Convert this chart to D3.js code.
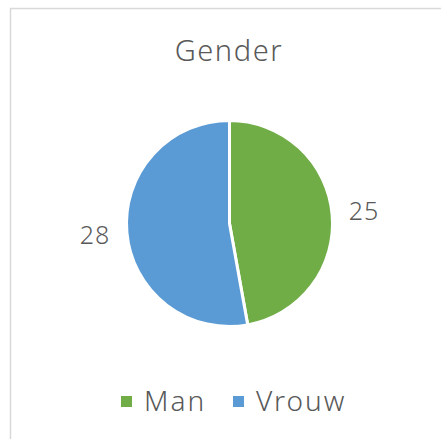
<!DOCTYPE html>
<html>
<head>
<meta charset="utf-8">
<script src="https://cdn.jsdelivr.net/npm/d3@7"></script>
<style>
  body { margin: 0; background: #fff; }
  text { font-family: "Noto Sans", sans-serif; font-weight: 300; fill: #595959; }
</style>
</head>
<body>
<svg width="441" height="439"></svg>
<script>
var categories = ["Man", "Vrouw"];
var values = [25, 28];
var colors = ["#70AD47", "#5B9BD5"];
var title = "Gender";

var svg = d3.select("svg"),
    width = +svg.attr("width"),
    height = +svg.attr("height");

// chart area border (cut off at right and bottom)
svg.append("rect")
    .attr("x", 10.5).attr("y", 8.5)
    .attr("width", 460).attr("height", 460)
    .attr("fill", "none")
    .attr("stroke", "#d9d9d9")
    .attr("stroke-width", 1.5);

svg.append("text")
    .attr("x", 229).attr("y", 61)
    .attr("text-anchor", "middle")
    .style("font-size", "29px")
    .style("letter-spacing", "1.6px")
    .text(title);

var cx = 229.5, cy = 223.5, r = 103;

var color = d3.scaleOrdinal().domain(categories).range(colors);

var pie = d3.pie().sort(null).value(function(d) { return d.value; });
var data = categories.map(function(c, i) { return {name: c, value: values[i]}; });

var arc = d3.arc().innerRadius(0).outerRadius(r);
var labelArc = d3.arc().innerRadius(135).outerRadius(135);

var g = svg.append("g").attr("transform", "translate(" + cx + "," + cy + ")");

g.selectAll("path")
    .data(pie(data))
    .enter().append("path")
    .attr("d", arc)
    .attr("fill", function(d) { return color(d.data.name); })
    .attr("stroke", "#fff")
    .attr("stroke-width", 3);

g.selectAll(".lbl")
    .data(pie(data))
    .enter().append("text")
    .attr("class", "lbl")
    .attr("transform", function(d) { return "translate(" + labelArc.centroid(d) + ")"; })
    .attr("text-anchor", "middle")
    .attr("dy", "0.35em")
    .style("font-size", "25px")
    .style("letter-spacing", "1px")
    .text(function(d) { return d.data.value; });

// legend
var legendX = [121, 233];
var leg = svg.selectAll(".leg")
    .data(categories)
    .enter().append("g")
    .attr("class", "leg")
    .attr("transform", function(d, i) { return "translate(" + legendX[i] + ",396)"; });

leg.append("rect")
    .attr("width", 11).attr("height", 11)
    .attr("fill", function(d) { return color(d); });

leg.append("text")
    .attr("x", 23).attr("y", 15)
    .style("font-size", "28px")
    .style("letter-spacing", "2px")
    .text(function(d) { return d; });
</script>
</body>
</html>
